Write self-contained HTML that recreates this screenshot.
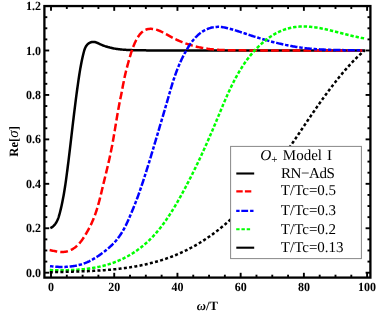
<!DOCTYPE html>
<html><head><meta charset="utf-8"><title>plot</title>
<style>
html,body{margin:0;padding:0;background:#fff;}
body{width:382px;height:319px;overflow:hidden;font-family:"Liberation Serif",serif;}
svg{display:block;will-change:transform;}
text{-webkit-font-smoothing:antialiased;}
</style></head><body>
<svg width="382" height="319" viewBox="0 0 382 319" text-rendering="geometricPrecision">
<rect x="0" y="0" width="382" height="319" fill="#fff"/>
<path d="M50.35,228.20 L51.26,227.72 L52.11,227.17 L52.90,226.56 L53.63,225.90 L54.31,225.18 L54.94,224.42 L55.52,223.61 L56.06,222.78 L56.56,221.91 L57.02,221.02 L57.45,220.11 L57.84,219.19 L58.20,218.26 L58.54,217.32 L58.86,216.37 L59.15,215.41 L59.43,214.45 L59.70,213.48 L59.95,212.51 L60.20,211.54 L60.44,210.57 L60.67,209.59 L60.90,208.62 L61.13,207.65 L61.35,206.67 L61.57,205.69 L61.78,204.72 L61.99,203.74 L62.19,202.76 L62.39,201.78 L62.59,200.80 L62.78,199.83 L62.97,198.85 L63.16,197.86 L63.34,196.88 L63.52,195.90 L63.69,194.92 L63.87,193.94 L64.03,192.95 L64.20,191.97 L64.36,190.99 L64.52,190.00 L64.68,189.02 L64.84,188.03 L64.99,187.05 L65.14,186.06 L65.29,185.07 L65.43,184.09 L65.58,183.10 L65.72,182.11 L65.86,181.12 L66.00,180.13 L66.14,179.14 L66.27,178.16 L66.41,177.17 L66.54,176.18 L66.67,175.19 L66.80,174.19 L66.93,173.20 L67.06,172.21 L67.19,171.22 L67.32,170.23 L67.44,169.24 L67.57,168.24 L67.69,167.25 L67.82,166.26 L67.94,165.27 L68.07,164.27 L68.19,163.28 L68.32,162.29 L68.44,161.29 L68.56,160.30 L68.68,159.30 L68.80,158.31 L68.92,157.31 L69.04,156.32 L69.16,155.32 L69.28,154.33 L69.40,153.33 L69.52,152.34 L69.64,151.34 L69.76,150.35 L69.88,149.35 L70.00,148.36 L70.11,147.36 L70.23,146.36 L70.35,145.37 L70.47,144.37 L70.58,143.37 L70.70,142.38 L70.82,141.38 L70.93,140.39 L71.05,139.39 L71.17,138.39 L71.28,137.40 L71.40,136.40 L71.52,135.41 L71.63,134.41 L71.75,133.41 L71.86,132.42 L71.98,131.42 L72.10,130.42 L72.21,129.43 L72.33,128.43 L72.45,127.44 L72.56,126.44 L72.68,125.45 L72.80,124.45 L72.92,123.46 L73.03,122.46 L73.15,121.47 L73.27,120.47 L73.39,119.48 L73.51,118.48 L73.62,117.49 L73.74,116.49 L73.86,115.50 L73.98,114.51 L74.10,113.51 L74.22,112.52 L74.34,111.53 L74.47,110.53 L74.59,109.54 L74.71,108.55 L74.83,107.56 L74.96,106.57 L75.08,105.57 L75.20,104.58 L75.33,103.59 L75.45,102.60 L75.58,101.61 L75.70,100.62 L75.83,99.63 L75.96,98.64 L76.09,97.65 L76.22,96.67 L76.35,95.68 L76.48,94.69 L76.61,93.70 L76.74,92.72 L76.87,91.73 L77.00,90.74 L77.14,89.76 L77.27,88.77 L77.41,87.79 L77.54,86.80 L77.68,85.82 L77.82,84.84 L77.96,83.86 L78.10,82.87 L78.24,81.89 L78.38,80.91 L78.52,79.93 L78.66,78.95 L78.81,77.97 L78.96,76.99 L79.11,76.01 L79.26,75.03 L79.41,74.05 L79.56,73.07 L79.72,72.09 L79.88,71.11 L80.05,70.12 L80.21,69.14 L80.38,68.16 L80.56,67.17 L80.74,66.19 L80.92,65.20 L81.11,64.21 L81.30,63.22 L81.49,62.23 L81.69,61.24 L81.90,60.24 L82.11,59.25 L82.33,58.25 L82.55,57.25 L82.78,56.24 L83.02,55.24 L83.26,54.23 L83.51,53.22 L83.77,52.21 L84.04,51.21 L84.33,50.21 L84.66,49.24 L85.02,48.30 L85.43,47.39 L85.88,46.52 L86.40,45.71 L86.98,44.94 L87.63,44.25 L88.36,43.62 L89.17,43.07 L90.04,42.61 L90.96,42.26 L91.90,42.02 L92.85,41.90 L93.80,41.92 L94.74,42.06 L95.68,42.30 L96.62,42.62 L97.55,43.00 L98.48,43.42 L99.41,43.85 L100.35,44.28 L101.28,44.70 L102.23,45.09 L103.17,45.47 L104.12,45.82 L105.07,46.16 L106.02,46.47 L106.98,46.77 L107.94,47.06 L108.90,47.32 L109.87,47.58 L110.84,47.81 L111.81,48.03 L112.78,48.24 L113.76,48.43 L114.74,48.61 L115.72,48.77 L116.70,48.93 L117.68,49.07 L118.67,49.20 L119.66,49.32 L120.65,49.43 L121.64,49.53 L122.63,49.62 L123.63,49.70 L124.62,49.77 L125.62,49.84 L126.61,49.90 L127.61,49.95 L128.61,50.00 L129.61,50.04 L130.61,50.07 L131.61,50.10 L132.62,50.13 L133.62,50.15 L134.62,50.17 L135.62,50.19 L136.63,50.21 L137.63,50.22 L138.63,50.24 L139.63,50.25 L140.64,50.26 L141.64,50.28 L142.64,50.29 L143.64,50.31 L144.64,50.33 L145.64,50.35 L146.64,50.38 L147.64,50.41 L148.64,50.44 L149.63,50.48 L150.00,50.50 L150.00,50.50 L365.20,50.50" fill="none" stroke="#000" stroke-width="2.5" stroke-linejoin="round"/>
<path d="M49.65,250.10 L50.59,250.28 L51.55,250.47 L52.52,250.67 L53.51,250.88 L54.50,251.08 L55.49,251.28 L56.50,251.47 L57.51,251.64 L58.52,251.78 L59.53,251.90 L60.54,251.98 L61.55,252.02 L62.56,252.01 L63.56,251.96 L64.55,251.85 L65.54,251.69 L66.51,251.49 L67.48,251.23 L68.43,250.94 L69.37,250.60 L70.29,250.22 L71.19,249.79 L72.08,249.34 L72.94,248.84 L73.78,248.31 L74.60,247.75 L75.39,247.16 L76.15,246.54 L76.89,245.90 L77.61,245.22 L78.30,244.53 L78.97,243.81 L79.62,243.07 L80.26,242.31 L80.87,241.53 L81.48,240.74 L82.06,239.93 L82.64,239.11 L83.20,238.28 L83.76,237.44 L84.30,236.59 L84.84,235.73 L85.37,234.87 L85.90,234.00 L86.42,233.12 L86.93,232.24 L87.43,231.35 L87.93,230.46 L88.42,229.57 L88.90,228.66 L89.37,227.76 L89.83,226.85 L90.29,225.94 L90.74,225.02 L91.18,224.10 L91.61,223.17 L92.03,222.25 L92.44,221.32 L92.84,220.39 L93.23,219.46 L93.62,218.52 L93.99,217.59 L94.36,216.65 L94.71,215.71 L95.06,214.77 L95.39,213.83 L95.72,212.89 L96.04,211.95 L96.36,211.01 L96.66,210.06 L96.96,209.12 L97.25,208.17 L97.53,207.23 L97.81,206.28 L98.09,205.33 L98.35,204.38 L98.62,203.43 L98.87,202.48 L99.13,201.53 L99.38,200.57 L99.62,199.62 L99.87,198.66 L100.11,197.71 L100.34,196.75 L100.58,195.79 L100.81,194.84 L101.04,193.88 L101.27,192.92 L101.50,191.96 L101.73,191.00 L101.96,190.03 L102.19,189.07 L102.42,188.11 L102.65,187.14 L102.88,186.18 L103.11,185.21 L103.35,184.25 L103.58,183.28 L103.81,182.31 L104.05,181.34 L104.28,180.37 L104.52,179.41 L104.76,178.44 L104.99,177.46 L105.23,176.49 L105.46,175.52 L105.70,174.55 L105.93,173.58 L106.17,172.60 L106.40,171.63 L106.64,170.65 L106.87,169.68 L107.10,168.70 L107.34,167.73 L107.57,166.75 L107.80,165.77 L108.03,164.79 L108.25,163.82 L108.48,162.84 L108.70,161.86 L108.93,160.88 L109.15,159.90 L109.37,158.92 L109.58,157.94 L109.80,156.96 L110.01,155.98 L110.22,154.99 L110.43,154.01 L110.64,153.03 L110.84,152.05 L111.04,151.06 L111.24,150.08 L111.44,149.10 L111.63,148.11 L111.82,147.13 L112.01,146.15 L112.20,145.16 L112.38,144.18 L112.56,143.19 L112.74,142.21 L112.92,141.22 L113.09,140.23 L113.27,139.25 L113.44,138.26 L113.61,137.28 L113.78,136.29 L113.95,135.30 L114.12,134.32 L114.28,133.33 L114.45,132.35 L114.62,131.36 L114.78,130.37 L114.94,129.38 L115.11,128.40 L115.27,127.41 L115.43,126.42 L115.59,125.44 L115.76,124.45 L115.92,123.46 L116.08,122.48 L116.24,121.49 L116.41,120.50 L116.57,119.52 L116.74,118.53 L116.90,117.54 L117.07,116.56 L117.24,115.57 L117.41,114.58 L117.58,113.60 L117.75,112.61 L117.92,111.63 L118.09,110.64 L118.27,109.65 L118.45,108.67 L118.63,107.68 L118.81,106.70 L118.99,105.71 L119.18,104.73 L119.37,103.74 L119.56,102.76 L119.75,101.78 L119.95,100.79 L120.15,99.81 L120.35,98.83 L120.55,97.84 L120.75,96.86 L120.95,95.88 L121.15,94.90 L121.35,93.92 L121.54,92.93 L121.73,91.95 L121.92,90.97 L122.11,89.99 L122.29,89.01 L122.48,88.03 L122.66,87.06 L122.85,86.08 L123.03,85.10 L123.22,84.12 L123.41,83.15 L123.60,82.17 L123.79,81.19 L123.98,80.22 L124.18,79.24 L124.38,78.27 L124.59,77.29 L124.80,76.32 L125.02,75.35 L125.24,74.38 L125.47,73.40 L125.70,72.43 L125.93,71.46 L126.17,70.49 L126.42,69.52 L126.67,68.56 L126.92,67.59 L127.18,66.62 L127.43,65.65 L127.70,64.69 L127.96,63.72 L128.22,62.76 L128.49,61.79 L128.76,60.83 L129.03,59.87 L129.30,58.91 L129.58,57.95 L129.85,56.99 L130.13,56.03 L130.42,55.07 L130.71,54.12 L131.00,53.16 L131.31,52.21 L131.62,51.26 L131.94,50.32 L132.27,49.37 L132.60,48.43 L132.95,47.49 L133.32,46.55 L133.69,45.62 L134.08,44.69 L134.48,43.76 L134.89,42.84 L135.32,41.92 L135.77,41.00 L136.23,40.09 L136.72,39.18 L137.22,38.28 L137.74,37.40 L138.29,36.53 L138.86,35.68 L139.46,34.87 L140.09,34.08 L140.75,33.33 L141.44,32.63 L142.17,31.97 L142.93,31.36 L143.73,30.80 L144.57,30.31 L145.44,29.88 L146.33,29.53 L147.26,29.24 L148.21,29.04 L149.17,28.90 L150.16,28.84 L151.15,28.84 L152.15,28.89 L153.15,29.01 L154.14,29.17 L155.13,29.38 L156.11,29.63 L157.08,29.91 L158.02,30.24 L158.96,30.59 L159.89,30.97 L160.80,31.38 L161.71,31.81 L162.61,32.25 L163.50,32.72 L164.39,33.20 L165.27,33.69 L166.15,34.18 L167.03,34.68 L167.90,35.19 L168.78,35.69 L169.66,36.18 L170.55,36.67 L171.43,37.15 L172.32,37.62 L173.22,38.08 L174.12,38.54 L175.02,38.98 L175.92,39.41 L176.83,39.84 L177.74,40.25 L178.66,40.66 L179.58,41.06 L180.50,41.44 L181.43,41.82 L182.35,42.19 L183.28,42.56 L184.22,42.91 L185.16,43.25 L186.10,43.59 L187.04,43.91 L187.99,44.23 L188.93,44.54 L189.88,44.84 L190.84,45.13 L191.79,45.41 L192.75,45.68 L193.71,45.95 L194.68,46.20 L195.64,46.45 L196.61,46.69 L197.58,46.92 L198.55,47.14 L199.52,47.35 L200.50,47.56 L201.48,47.76 L202.46,47.94 L203.44,48.12 L204.42,48.29 L205.40,48.46 L206.39,48.61 L207.38,48.76 L208.37,48.89 L209.36,49.02 L210.35,49.14 L211.34,49.26 L212.33,49.36 L213.33,49.46 L214.32,49.55 L215.32,49.63 L216.32,49.71 L217.32,49.78 L218.32,49.84 L219.32,49.90 L220.32,49.95 L221.32,50.00 L222.32,50.04 L223.32,50.08 L224.32,50.11 L225.33,50.14 L226.33,50.17 L227.33,50.19 L228.34,50.21 L229.34,50.23 L230.35,50.24 L231.35,50.26 L232.35,50.27 L233.36,50.28 L234.36,50.28 L235.36,50.29 L236.37,50.30 L237.37,50.31 L238.37,50.31 L239.37,50.32 L240.37,50.33 L241.37,50.34 L242.37,50.35 L243.37,50.36 L244.37,50.37 L245.36,50.39 L246.36,50.41 L247.35,50.43 L248.35,50.45 L249.34,50.48 L250.00,50.50 L250.00,50.50 L362.50,50.50" fill="none" stroke="#f00" stroke-width="2.5" stroke-linejoin="round" stroke-dasharray="7.7 3.1"/>
<path d="M50.00,266.15 L50.99,266.27 L51.98,266.38 L52.98,266.48 L53.97,266.58 L54.97,266.66 L55.97,266.73 L56.97,266.80 L57.97,266.85 L58.97,266.89 L59.98,266.92 L60.98,266.94 L61.98,266.95 L62.99,266.94 L63.99,266.93 L64.99,266.90 L65.99,266.85 L66.99,266.80 L67.99,266.73 L68.99,266.65 L69.98,266.55 L70.98,266.44 L71.97,266.32 L72.95,266.18 L73.94,266.03 L74.92,265.86 L75.90,265.67 L76.88,265.47 L77.85,265.26 L78.81,265.02 L79.78,264.77 L80.74,264.51 L81.69,264.23 L82.64,263.92 L83.58,263.61 L84.52,263.27 L85.45,262.92 L86.38,262.54 L87.30,262.15 L88.21,261.74 L89.12,261.32 L90.02,260.87 L90.92,260.41 L91.81,259.94 L92.69,259.45 L93.56,258.94 L94.43,258.43 L95.30,257.90 L96.15,257.36 L97.00,256.81 L97.85,256.25 L98.68,255.69 L99.52,255.11 L100.34,254.53 L101.16,253.94 L101.97,253.35 L102.78,252.75 L103.57,252.14 L104.37,251.54 L105.15,250.92 L105.93,250.31 L106.70,249.68 L107.46,249.05 L108.22,248.41 L108.97,247.76 L109.71,247.11 L110.44,246.44 L111.16,245.77 L111.87,245.08 L112.58,244.39 L113.27,243.68 L113.96,242.96 L114.63,242.22 L115.30,241.48 L115.95,240.71 L116.59,239.94 L117.23,239.15 L117.85,238.35 L118.46,237.54 L119.06,236.72 L119.65,235.89 L120.22,235.05 L120.79,234.20 L121.34,233.35 L121.88,232.49 L122.40,231.63 L122.92,230.77 L123.42,229.90 L123.90,229.03 L124.38,228.15 L124.85,227.27 L125.30,226.39 L125.75,225.51 L126.18,224.62 L126.61,223.73 L127.03,222.84 L127.45,221.94 L127.86,221.05 L128.26,220.15 L128.66,219.24 L129.06,218.34 L129.45,217.43 L129.84,216.52 L130.23,215.61 L130.62,214.70 L131.00,213.78 L131.39,212.86 L131.77,211.95 L132.16,211.02 L132.54,210.10 L132.92,209.17 L133.30,208.25 L133.67,207.32 L134.05,206.39 L134.42,205.46 L134.79,204.52 L135.16,203.59 L135.53,202.65 L135.89,201.71 L136.26,200.78 L136.61,199.83 L136.97,198.89 L137.32,197.95 L137.67,197.01 L138.02,196.06 L138.36,195.12 L138.70,194.17 L139.04,193.22 L139.38,192.28 L139.71,191.33 L140.04,190.38 L140.37,189.43 L140.69,188.48 L141.02,187.53 L141.34,186.58 L141.66,185.62 L141.97,184.67 L142.29,183.72 L142.61,182.77 L142.92,181.82 L143.23,180.86 L143.54,179.91 L143.85,178.96 L144.16,178.01 L144.46,177.05 L144.77,176.10 L145.07,175.15 L145.38,174.20 L145.68,173.24 L145.98,172.29 L146.28,171.34 L146.58,170.39 L146.88,169.43 L147.18,168.48 L147.48,167.53 L147.77,166.58 L148.07,165.62 L148.36,164.67 L148.66,163.72 L148.95,162.77 L149.24,161.81 L149.54,160.86 L149.83,159.91 L150.12,158.95 L150.41,158.00 L150.70,157.05 L150.99,156.09 L151.27,155.14 L151.56,154.19 L151.85,153.23 L152.14,152.28 L152.42,151.32 L152.71,150.37 L153.00,149.41 L153.28,148.46 L153.57,147.50 L153.85,146.55 L154.14,145.59 L154.42,144.64 L154.70,143.68 L154.99,142.72 L155.27,141.77 L155.56,140.81 L155.84,139.85 L156.12,138.89 L156.41,137.94 L156.69,136.98 L156.97,136.02 L157.26,135.06 L157.54,134.10 L157.82,133.14 L158.11,132.18 L158.39,131.22 L158.68,130.26 L158.96,129.30 L159.24,128.34 L159.53,127.38 L159.81,126.42 L160.10,125.46 L160.38,124.49 L160.67,123.53 L160.96,122.57 L161.24,121.60 L161.53,120.64 L161.81,119.68 L162.10,118.71 L162.39,117.75 L162.67,116.78 L162.96,115.82 L163.25,114.85 L163.53,113.89 L163.82,112.92 L164.10,111.96 L164.39,111.00 L164.67,110.03 L164.96,109.07 L165.24,108.10 L165.52,107.14 L165.80,106.18 L166.09,105.21 L166.37,104.25 L166.65,103.29 L166.92,102.32 L167.20,101.36 L167.48,100.40 L167.76,99.44 L168.03,98.48 L168.31,97.52 L168.58,96.56 L168.86,95.60 L169.13,94.64 L169.40,93.69 L169.68,92.73 L169.95,91.77 L170.23,90.82 L170.51,89.87 L170.79,88.91 L171.07,87.96 L171.35,87.01 L171.64,86.06 L171.93,85.11 L172.22,84.16 L172.51,83.21 L172.80,82.27 L173.10,81.32 L173.41,80.38 L173.71,79.44 L174.03,78.50 L174.34,77.56 L174.66,76.62 L174.99,75.68 L175.32,74.75 L175.65,73.81 L175.99,72.88 L176.33,71.95 L176.68,71.02 L177.04,70.09 L177.40,69.16 L177.76,68.24 L178.14,67.32 L178.52,66.39 L178.90,65.47 L179.29,64.56 L179.69,63.64 L180.09,62.73 L180.50,61.81 L180.92,60.90 L181.34,60.00 L181.77,59.09 L182.21,58.19 L182.65,57.28 L183.10,56.38 L183.56,55.48 L184.03,54.59 L184.51,53.70 L184.99,52.80 L185.48,51.91 L185.98,51.03 L186.49,50.14 L187.00,49.26 L187.53,48.38 L188.06,47.51 L188.60,46.64 L189.16,45.78 L189.72,44.93 L190.29,44.08 L190.88,43.24 L191.47,42.42 L192.08,41.60 L192.70,40.80 L193.33,40.01 L193.98,39.23 L194.63,38.47 L195.30,37.72 L195.99,36.99 L196.68,36.28 L197.39,35.59 L198.12,34.92 L198.86,34.27 L199.62,33.63 L200.39,33.03 L201.17,32.44 L201.98,31.88 L202.80,31.34 L203.63,30.83 L204.49,30.35 L205.36,29.90 L206.25,29.47 L207.15,29.08 L208.08,28.71 L209.02,28.38 L209.97,28.08 L210.94,27.81 L211.91,27.57 L212.89,27.37 L213.88,27.20 L214.87,27.06 L215.87,26.96 L216.86,26.90 L217.86,26.87 L218.85,26.87 L219.84,26.92 L220.83,26.99 L221.81,27.09 L222.79,27.22 L223.77,27.38 L224.75,27.56 L225.72,27.75 L226.69,27.97 L227.66,28.20 L228.63,28.44 L229.59,28.70 L230.56,28.96 L231.52,29.23 L232.48,29.51 L233.44,29.79 L234.40,30.08 L235.36,30.37 L236.31,30.67 L237.27,30.97 L238.22,31.27 L239.17,31.58 L240.13,31.90 L241.08,32.21 L242.03,32.52 L242.98,32.84 L243.94,33.16 L244.89,33.48 L245.84,33.80 L246.79,34.12 L247.74,34.44 L248.70,34.76 L249.65,35.07 L250.60,35.39 L251.56,35.70 L252.52,36.01 L253.47,36.32 L254.43,36.62 L255.39,36.93 L256.35,37.23 L257.31,37.53 L258.27,37.82 L259.23,38.11 L260.19,38.41 L261.15,38.69 L262.11,38.98 L263.08,39.26 L264.04,39.54 L265.01,39.82 L265.97,40.09 L266.94,40.36 L267.91,40.63 L268.88,40.90 L269.84,41.16 L270.81,41.42 L271.78,41.67 L272.75,41.93 L273.72,42.17 L274.70,42.42 L275.67,42.66 L276.64,42.90 L277.62,43.14 L278.59,43.37 L279.56,43.60 L280.54,43.82 L281.52,44.04 L282.49,44.26 L283.47,44.48 L284.45,44.69 L285.43,44.89 L286.40,45.10 L287.38,45.29 L288.36,45.49 L289.34,45.68 L290.33,45.87 L291.31,46.05 L292.29,46.23 L293.27,46.40 L294.26,46.57 L295.24,46.74 L296.22,46.90 L297.21,47.05 L298.19,47.21 L299.18,47.35 L300.17,47.50 L301.15,47.63 L302.14,47.77 L303.13,47.90 L304.11,48.02 L305.10,48.14 L306.09,48.26 L307.08,48.37 L308.07,48.47 L309.06,48.57 L310.05,48.67 L311.04,48.76 L312.03,48.85 L313.03,48.93 L314.02,49.01 L315.01,49.09 L316.00,49.16 L317.00,49.23 L317.99,49.30 L318.99,49.36 L319.98,49.42 L320.98,49.47 L321.97,49.53 L322.97,49.58 L323.96,49.62 L324.96,49.67 L325.96,49.71 L326.95,49.75 L327.95,49.78 L328.95,49.82 L329.94,49.85 L330.94,49.88 L331.94,49.91 L332.94,49.94 L333.94,49.96 L334.94,49.98 L335.94,50.00 L336.94,50.02 L337.94,50.04 L338.94,50.06 L339.94,50.08 L340.94,50.09 L341.94,50.11 L342.94,50.12 L343.94,50.13 L344.95,50.15 L345.95,50.16 L346.95,50.17 L347.95,50.18 L348.96,50.19 L349.96,50.21 L350.96,50.22 L351.96,50.23 L352.97,50.24 L353.97,50.25 L354.98,50.27 L355.98,50.28 L356.98,50.30 L357.99,50.31 L358.99,50.33 L360.00,50.35 L361.00,50.37 L362.01,50.39 L362.50,50.40" fill="none" stroke="#00f" stroke-width="2.5" stroke-linejoin="round" stroke-dasharray="3.5 1.8 7.3 1.8"/>
<path d="M49.80,270.10 L50.78,270.12 L51.76,270.15 L52.74,270.17 L53.72,270.18 L54.71,270.20 L55.70,270.21 L56.69,270.22 L57.68,270.23 L58.67,270.24 L59.66,270.24 L60.66,270.24 L61.66,270.24 L62.65,270.23 L63.65,270.22 L64.65,270.21 L65.65,270.19 L66.66,270.17 L67.66,270.15 L68.66,270.12 L69.67,270.09 L70.67,270.05 L71.68,270.01 L72.68,269.97 L73.69,269.92 L74.70,269.86 L75.70,269.80 L76.71,269.74 L77.71,269.67 L78.72,269.60 L79.73,269.52 L80.73,269.43 L81.74,269.34 L82.74,269.25 L83.74,269.14 L84.75,269.04 L85.75,268.92 L86.75,268.80 L87.75,268.68 L88.75,268.55 L89.74,268.41 L90.74,268.26 L91.74,268.11 L92.73,267.95 L93.72,267.78 L94.71,267.61 L95.70,267.43 L96.69,267.24 L97.67,267.05 L98.65,266.85 L99.64,266.63 L100.61,266.42 L101.59,266.19 L102.56,265.96 L103.54,265.71 L104.51,265.46 L105.47,265.20 L106.43,264.93 L107.40,264.66 L108.35,264.37 L109.31,264.08 L110.26,263.77 L111.21,263.46 L112.15,263.14 L113.10,262.81 L114.03,262.46 L114.97,262.11 L115.90,261.75 L116.83,261.38 L117.75,261.00 L118.67,260.62 L119.59,260.22 L120.50,259.81 L121.41,259.40 L122.31,258.97 L123.21,258.54 L124.11,258.09 L125.00,257.64 L125.88,257.18 L126.76,256.71 L127.64,256.24 L128.51,255.75 L129.38,255.25 L130.24,254.75 L131.09,254.24 L131.94,253.72 L132.79,253.19 L133.63,252.65 L134.46,252.11 L135.29,251.56 L136.11,251.00 L136.93,250.43 L137.74,249.85 L138.55,249.27 L139.35,248.67 L140.14,248.07 L140.93,247.47 L141.71,246.85 L142.48,246.23 L143.25,245.60 L144.01,244.96 L144.77,244.31 L145.51,243.66 L146.26,243.00 L146.99,242.34 L147.72,241.66 L148.44,240.98 L149.16,240.30 L149.87,239.60 L150.57,238.90 L151.27,238.20 L151.96,237.49 L152.64,236.77 L153.32,236.04 L154.00,235.31 L154.67,234.58 L155.33,233.84 L155.99,233.09 L156.64,232.34 L157.28,231.58 L157.92,230.81 L158.56,230.05 L159.19,229.27 L159.82,228.50 L160.44,227.71 L161.05,226.92 L161.66,226.13 L162.27,225.34 L162.87,224.54 L163.47,223.73 L164.06,222.92 L164.65,222.11 L165.23,221.29 L165.81,220.47 L166.39,219.65 L166.96,218.82 L167.52,217.99 L168.08,217.15 L168.64,216.31 L169.20,215.47 L169.75,214.63 L170.30,213.78 L170.84,212.93 L171.38,212.08 L171.91,211.23 L172.45,210.37 L172.98,209.51 L173.50,208.65 L174.03,207.78 L174.55,206.92 L175.06,206.05 L175.58,205.18 L176.09,204.31 L176.60,203.44 L177.10,202.56 L177.60,201.69 L178.10,200.81 L178.60,199.94 L179.10,199.06 L179.59,198.18 L180.08,197.30 L180.57,196.42 L181.05,195.54 L181.54,194.65 L182.02,193.77 L182.50,192.89 L182.97,192.01 L183.45,191.13 L183.93,190.24 L184.40,189.36 L184.87,188.48 L185.34,187.60 L185.80,186.71 L186.27,185.83 L186.73,184.95 L187.19,184.06 L187.65,183.18 L188.11,182.30 L188.57,181.41 L189.03,180.53 L189.48,179.64 L189.93,178.76 L190.38,177.88 L190.83,176.99 L191.28,176.10 L191.72,175.22 L192.17,174.33 L192.61,173.45 L193.05,172.56 L193.49,171.67 L193.93,170.78 L194.37,169.90 L194.80,169.01 L195.24,168.12 L195.67,167.23 L196.10,166.34 L196.53,165.45 L196.96,164.56 L197.39,163.67 L197.82,162.77 L198.24,161.88 L198.66,160.99 L199.09,160.09 L199.51,159.20 L199.93,158.31 L200.35,157.41 L200.77,156.51 L201.18,155.62 L201.60,154.72 L202.01,153.82 L202.43,152.93 L202.84,152.03 L203.25,151.13 L203.66,150.23 L204.07,149.32 L204.48,148.42 L204.89,147.52 L205.30,146.62 L205.70,145.71 L206.11,144.81 L206.51,143.90 L206.91,143.00 L207.32,142.09 L207.72,141.18 L208.12,140.27 L208.52,139.36 L208.92,138.45 L209.32,137.54 L209.71,136.63 L210.11,135.71 L210.51,134.80 L210.90,133.88 L211.30,132.97 L211.69,132.05 L212.09,131.13 L212.48,130.21 L212.87,129.29 L213.26,128.37 L213.66,127.45 L214.05,126.52 L214.44,125.60 L214.83,124.67 L215.22,123.75 L215.61,122.82 L215.99,121.89 L216.38,120.96 L216.77,120.03 L217.16,119.10 L217.55,118.16 L217.93,117.23 L218.32,116.30 L218.71,115.36 L219.09,114.42 L219.48,113.49 L219.87,112.55 L220.26,111.61 L220.65,110.68 L221.04,109.74 L221.43,108.80 L221.82,107.87 L222.21,106.93 L222.61,105.99 L223.00,105.05 L223.40,104.12 L223.80,103.18 L224.20,102.25 L224.60,101.31 L225.00,100.38 L225.40,99.45 L225.81,98.52 L226.22,97.58 L226.63,96.65 L227.04,95.73 L227.46,94.80 L227.87,93.87 L228.29,92.95 L228.71,92.03 L229.14,91.11 L229.57,90.19 L230.00,89.27 L230.43,88.35 L230.86,87.44 L231.30,86.53 L231.75,85.62 L232.19,84.71 L232.64,83.81 L233.09,82.91 L233.55,82.01 L234.01,81.11 L234.47,80.22 L234.94,79.33 L235.41,78.44 L235.89,77.55 L236.37,76.67 L236.85,75.79 L237.34,74.92 L237.84,74.05 L238.33,73.18 L238.84,72.31 L239.34,71.45 L239.86,70.59 L240.37,69.74 L240.90,68.89 L241.42,68.04 L241.96,67.20 L242.49,66.36 L243.04,65.53 L243.59,64.70 L244.14,63.88 L244.70,63.06 L245.27,62.24 L245.84,61.43 L246.42,60.62 L247.00,59.82 L247.59,59.03 L248.19,58.24 L248.80,57.45 L249.41,56.67 L250.02,55.89 L250.65,55.12 L251.28,54.36 L251.91,53.60 L252.56,52.85 L253.21,52.10 L253.87,51.36 L254.53,50.62 L255.21,49.90 L255.89,49.17 L256.58,48.46 L257.27,47.74 L257.98,47.04 L258.69,46.34 L259.41,45.65 L260.14,44.97 L260.87,44.29 L261.62,43.62 L262.37,42.96 L263.13,42.30 L263.90,41.65 L264.67,41.01 L265.46,40.38 L266.25,39.76 L267.05,39.15 L267.86,38.55 L268.67,37.96 L269.49,37.38 L270.32,36.81 L271.15,36.25 L272.00,35.71 L272.84,35.17 L273.70,34.65 L274.56,34.15 L275.42,33.66 L276.30,33.18 L277.17,32.72 L278.06,32.27 L278.95,31.84 L279.84,31.42 L280.74,31.02 L281.65,30.64 L282.56,30.27 L283.47,29.92 L284.40,29.59 L285.32,29.28 L286.25,28.98 L287.18,28.70 L288.12,28.44 L289.06,28.20 L290.01,27.97 L290.96,27.76 L291.91,27.57 L292.87,27.39 L293.83,27.23 L294.80,27.08 L295.76,26.96 L296.73,26.84 L297.71,26.74 L298.68,26.66 L299.66,26.60 L300.64,26.55 L301.62,26.51 L302.61,26.49 L303.60,26.48 L304.59,26.49 L305.58,26.52 L306.57,26.55 L307.57,26.60 L308.57,26.67 L309.56,26.74 L310.56,26.83 L311.56,26.93 L312.57,27.04 L313.57,27.16 L314.57,27.29 L315.58,27.44 L316.59,27.59 L317.59,27.75 L318.60,27.92 L319.61,28.09 L320.61,28.28 L321.62,28.47 L322.63,28.67 L323.64,28.88 L324.65,29.09 L325.66,29.31 L326.66,29.53 L327.67,29.76 L328.68,29.99 L329.69,30.23 L330.69,30.47 L331.70,30.71 L332.70,30.95 L333.71,31.20 L334.71,31.45 L335.71,31.70 L336.71,31.95 L337.71,32.21 L338.71,32.46 L339.70,32.72 L340.70,32.97 L341.69,33.23 L342.68,33.48 L343.67,33.74 L344.66,33.99 L345.64,34.24 L346.62,34.49 L347.60,34.74 L348.58,34.98 L349.56,35.22 L350.53,35.46 L351.50,35.70 L352.47,35.93 L353.43,36.16 L354.39,36.38 L355.35,36.60 L356.30,36.81 L357.25,37.02 L358.20,37.23 L359.15,37.42 L360.09,37.61 L361.02,37.80 L361.96,37.97 L362.89,38.14 L363.81,38.30 L364.73,38.46 L365.00,38.50" fill="none" stroke="#0f0" stroke-width="2.5" stroke-linejoin="round" stroke-dasharray="3.4 1.9"/>
<path d="M49.80,272.20 L50.78,272.18 L51.76,272.15 L52.74,272.13 L53.72,272.10 L54.71,272.08 L55.69,272.06 L56.68,272.03 L57.67,272.01 L58.65,271.99 L59.64,271.96 L60.63,271.94 L61.62,271.92 L62.61,271.90 L63.60,271.87 L64.60,271.85 L65.59,271.83 L66.58,271.80 L67.58,271.78 L68.57,271.75 L69.57,271.73 L70.57,271.70 L71.56,271.68 L72.56,271.65 L73.56,271.62 L74.56,271.60 L75.56,271.57 L76.56,271.54 L77.56,271.51 L78.56,271.47 L79.56,271.44 L80.56,271.41 L81.57,271.37 L82.57,271.34 L83.57,271.30 L84.58,271.26 L85.58,271.22 L86.58,271.18 L87.59,271.14 L88.59,271.09 L89.60,271.05 L90.60,271.00 L91.60,270.95 L92.61,270.90 L93.61,270.85 L94.62,270.80 L95.62,270.74 L96.63,270.68 L97.63,270.62 L98.64,270.56 L99.64,270.50 L100.65,270.43 L101.65,270.36 L102.66,270.29 L103.66,270.22 L104.67,270.15 L105.67,270.07 L106.68,269.99 L107.68,269.91 L108.68,269.82 L109.68,269.74 L110.69,269.65 L111.69,269.56 L112.69,269.46 L113.69,269.36 L114.69,269.26 L115.70,269.16 L116.70,269.05 L117.70,268.94 L118.69,268.83 L119.69,268.72 L120.69,268.60 L121.69,268.47 L122.69,268.35 L123.68,268.22 L124.68,268.09 L125.67,267.95 L126.67,267.82 L127.66,267.67 L128.65,267.53 L129.64,267.38 L130.64,267.22 L131.63,267.07 L132.62,266.91 L133.60,266.74 L134.59,266.57 L135.58,266.40 L136.56,266.23 L137.55,266.05 L138.53,265.86 L139.52,265.67 L140.50,265.48 L141.48,265.28 L142.46,265.08 L143.44,264.88 L144.41,264.67 L145.39,264.45 L146.37,264.23 L147.34,264.01 L148.31,263.78 L149.28,263.55 L150.25,263.31 L151.22,263.07 L152.19,262.82 L153.16,262.57 L154.12,262.31 L155.08,262.05 L156.04,261.78 L157.00,261.51 L157.96,261.23 L158.92,260.95 L159.88,260.67 L160.83,260.37 L161.78,260.08 L162.73,259.77 L163.68,259.47 L164.63,259.15 L165.58,258.83 L166.52,258.51 L167.46,258.18 L168.40,257.85 L169.34,257.51 L170.28,257.16 L171.21,256.81 L172.14,256.46 L173.07,256.10 L174.00,255.73 L174.93,255.36 L175.85,254.98 L176.77,254.60 L177.69,254.21 L178.61,253.82 L179.53,253.42 L180.44,253.01 L181.35,252.60 L182.26,252.18 L183.16,251.76 L184.07,251.34 L184.97,250.90 L185.87,250.47 L186.76,250.02 L187.66,249.57 L188.55,249.12 L189.44,248.66 L190.32,248.20 L191.20,247.73 L192.08,247.25 L192.96,246.77 L193.84,246.29 L194.71,245.80 L195.58,245.30 L196.44,244.81 L197.31,244.30 L198.17,243.79 L199.02,243.28 L199.88,242.76 L200.73,242.24 L201.58,241.71 L202.42,241.18 L203.27,240.64 L204.11,240.10 L204.94,239.56 L205.77,239.01 L206.60,238.45 L207.43,237.89 L208.25,237.33 L209.07,236.76 L209.89,236.19 L210.70,235.62 L211.51,235.04 L212.31,234.46 L213.12,233.87 L213.92,233.28 L214.71,232.68 L215.50,232.08 L216.29,231.48 L217.08,230.87 L217.86,230.26 L218.64,229.65 L219.42,229.03 L220.20,228.41 L220.97,227.78 L221.74,227.15 L222.50,226.52 L223.26,225.88 L224.02,225.24 L224.78,224.60 L225.53,223.95 L226.28,223.30 L227.03,222.65 L227.77,221.99 L228.51,221.33 L229.25,220.67 L229.99,220.00 L230.72,219.33 L231.45,218.66 L232.18,217.98 L232.91,217.30 L233.63,216.62 L234.35,215.93 L235.06,215.24 L235.78,214.55 L236.49,213.85 L237.20,213.15 L237.91,212.45 L238.61,211.75 L239.31,211.04 L240.01,210.33 L240.71,209.62 L241.40,208.90 L242.09,208.18 L242.78,207.46 L243.47,206.74 L244.15,206.01 L244.83,205.28 L245.51,204.55 L246.19,203.82 L246.87,203.08 L247.54,202.34 L248.21,201.60 L248.88,200.86 L249.54,200.11 L250.21,199.36 L250.87,198.61 L251.53,197.86 L252.19,197.10 L252.84,196.35 L253.49,195.59 L254.14,194.83 L254.79,194.06 L255.44,193.30 L256.09,192.53 L256.73,191.76 L257.37,190.99 L258.01,190.21 L258.65,189.44 L259.28,188.66 L259.91,187.88 L260.55,187.10 L261.18,186.31 L261.80,185.53 L262.43,184.74 L263.05,183.96 L263.68,183.17 L264.30,182.37 L264.92,181.58 L265.53,180.79 L266.15,179.99 L266.76,179.19 L267.37,178.39 L267.99,177.59 L268.59,176.79 L269.20,175.99 L269.81,175.18 L270.41,174.38 L271.02,173.57 L271.62,172.76 L272.22,171.95 L272.82,171.14 L273.41,170.33 L274.01,169.52 L274.60,168.71 L275.20,167.89 L275.79,167.08 L276.38,166.26 L276.97,165.44 L277.56,164.62 L278.14,163.80 L278.73,162.98 L279.31,162.16 L279.89,161.34 L280.48,160.52 L281.06,159.70 L281.64,158.87 L282.21,158.05 L282.79,157.22 L283.37,156.40 L283.94,155.57 L284.52,154.75 L285.09,153.92 L285.66,153.09 L286.23,152.26 L286.81,151.44 L287.37,150.61 L287.94,149.78 L288.51,148.95 L289.08,148.12 L289.64,147.29 L290.21,146.46 L290.77,145.63 L291.34,144.80 L291.90,143.97 L292.46,143.15 L293.02,142.32 L293.58,141.49 L294.14,140.66 L294.70,139.83 L295.26,139.00 L295.82,138.17 L296.38,137.34 L296.94,136.51 L297.50,135.68 L298.05,134.85 L298.61,134.02 L299.17,133.19 L299.72,132.37 L300.28,131.54 L300.83,130.71 L301.39,129.88 L301.95,129.05 L302.50,128.23 L303.06,127.40 L303.61,126.57 L304.17,125.75 L304.72,124.92 L305.28,124.09 L305.84,123.27 L306.39,122.44 L306.95,121.62 L307.51,120.79 L308.06,119.97 L308.62,119.15 L309.18,118.32 L309.74,117.50 L310.30,116.68 L310.86,115.86 L311.42,115.03 L311.98,114.21 L312.54,113.39 L313.10,112.57 L313.67,111.76 L314.23,110.94 L314.79,110.12 L315.36,109.30 L315.93,108.49 L316.49,107.67 L317.06,106.85 L317.63,106.04 L318.20,105.23 L318.77,104.41 L319.34,103.60 L319.92,102.79 L320.49,101.98 L321.07,101.17 L321.64,100.36 L322.22,99.55 L322.80,98.74 L323.38,97.93 L323.96,97.13 L324.55,96.32 L325.13,95.52 L325.72,94.72 L326.31,93.91 L326.90,93.11 L327.49,92.31 L328.08,91.51 L328.68,90.71 L329.28,89.91 L329.88,89.12 L330.48,88.32 L331.08,87.53 L331.68,86.73 L332.29,85.94 L332.90,85.15 L333.51,84.36 L334.12,83.57 L334.74,82.78 L335.35,82.00 L335.97,81.21 L336.60,80.43 L337.22,79.64 L337.85,78.86 L338.48,78.08 L339.11,77.30 L339.74,76.52 L340.38,75.74 L341.02,74.97 L341.66,74.19 L342.30,73.42 L342.95,72.65 L343.60,71.88 L344.25,71.11 L344.91,70.35 L345.57,69.59 L346.23,68.83 L346.89,68.07 L347.56,67.32 L348.23,66.57 L348.91,65.82 L349.58,65.07 L350.26,64.33 L350.95,63.59 L351.63,62.86 L352.32,62.13 L353.02,61.41 L353.71,60.69 L354.41,59.97 L355.12,59.26 L355.82,58.55 L356.53,57.85 L357.25,57.15 L357.97,56.46 L358.69,55.78 L359.42,55.10 L360.15,54.42 L360.88,53.75 L361.62,53.09 L362.36,52.44 L363.10,51.79 L363.85,51.15 L364.50,50.60" fill="none" stroke="#000" stroke-width="2.5" stroke-linejoin="round" stroke-dasharray="3.0 2.3"/>
<rect x="44.4" y="6.05" width="326.0" height="271.55" fill="none" stroke="#000" stroke-width="2.3"/>
<g stroke="#000" stroke-width="1.9"><line x1="51.00" y1="277.6" x2="51.00" y2="272.8" /><line x1="51.00" y1="6.05" x2="51.00" y2="10.85" /><line x1="66.81" y1="277.6" x2="66.81" y2="274.70000000000005" /><line x1="66.81" y1="6.05" x2="66.81" y2="8.95" /><line x1="82.61" y1="277.6" x2="82.61" y2="274.70000000000005" /><line x1="82.61" y1="6.05" x2="82.61" y2="8.95" /><line x1="98.41" y1="277.6" x2="98.41" y2="274.70000000000005" /><line x1="98.41" y1="6.05" x2="98.41" y2="8.95" /><line x1="114.22" y1="277.6" x2="114.22" y2="272.8" /><line x1="114.22" y1="6.05" x2="114.22" y2="10.85" /><line x1="130.03" y1="277.6" x2="130.03" y2="274.70000000000005" /><line x1="130.03" y1="6.05" x2="130.03" y2="8.95" /><line x1="145.83" y1="277.6" x2="145.83" y2="274.70000000000005" /><line x1="145.83" y1="6.05" x2="145.83" y2="8.95" /><line x1="161.63" y1="277.6" x2="161.63" y2="274.70000000000005" /><line x1="161.63" y1="6.05" x2="161.63" y2="8.95" /><line x1="177.44" y1="277.6" x2="177.44" y2="272.8" /><line x1="177.44" y1="6.05" x2="177.44" y2="10.85" /><line x1="193.25" y1="277.6" x2="193.25" y2="274.70000000000005" /><line x1="193.25" y1="6.05" x2="193.25" y2="8.95" /><line x1="209.05" y1="277.6" x2="209.05" y2="274.70000000000005" /><line x1="209.05" y1="6.05" x2="209.05" y2="8.95" /><line x1="224.85" y1="277.6" x2="224.85" y2="274.70000000000005" /><line x1="224.85" y1="6.05" x2="224.85" y2="8.95" /><line x1="240.66" y1="277.6" x2="240.66" y2="272.8" /><line x1="240.66" y1="6.05" x2="240.66" y2="10.85" /><line x1="256.47" y1="277.6" x2="256.47" y2="274.70000000000005" /><line x1="256.47" y1="6.05" x2="256.47" y2="8.95" /><line x1="272.27" y1="277.6" x2="272.27" y2="274.70000000000005" /><line x1="272.27" y1="6.05" x2="272.27" y2="8.95" /><line x1="288.07" y1="277.6" x2="288.07" y2="274.70000000000005" /><line x1="288.07" y1="6.05" x2="288.07" y2="8.95" /><line x1="303.88" y1="277.6" x2="303.88" y2="272.8" /><line x1="303.88" y1="6.05" x2="303.88" y2="10.85" /><line x1="319.69" y1="277.6" x2="319.69" y2="274.70000000000005" /><line x1="319.69" y1="6.05" x2="319.69" y2="8.95" /><line x1="335.49" y1="277.6" x2="335.49" y2="274.70000000000005" /><line x1="335.49" y1="6.05" x2="335.49" y2="8.95" /><line x1="351.30" y1="277.6" x2="351.30" y2="274.70000000000005" /><line x1="351.30" y1="6.05" x2="351.30" y2="8.95" /><line x1="367.10" y1="277.6" x2="367.10" y2="272.8" /><line x1="367.10" y1="6.05" x2="367.10" y2="10.85" /><line x1="44.4" y1="272.70" x2="49.199999999999996" y2="272.70" /><line x1="370.4" y1="272.70" x2="365.59999999999997" y2="272.70" /><line x1="44.4" y1="261.59" x2="47.3" y2="261.59" /><line x1="370.4" y1="261.59" x2="367.5" y2="261.59" /><line x1="44.4" y1="250.48" x2="47.3" y2="250.48" /><line x1="370.4" y1="250.48" x2="367.5" y2="250.48" /><line x1="44.4" y1="239.37" x2="47.3" y2="239.37" /><line x1="370.4" y1="239.37" x2="367.5" y2="239.37" /><line x1="44.4" y1="228.26" x2="49.199999999999996" y2="228.26" /><line x1="370.4" y1="228.26" x2="365.59999999999997" y2="228.26" /><line x1="44.4" y1="217.15" x2="47.3" y2="217.15" /><line x1="370.4" y1="217.15" x2="367.5" y2="217.15" /><line x1="44.4" y1="206.04" x2="47.3" y2="206.04" /><line x1="370.4" y1="206.04" x2="367.5" y2="206.04" /><line x1="44.4" y1="194.93" x2="47.3" y2="194.93" /><line x1="370.4" y1="194.93" x2="367.5" y2="194.93" /><line x1="44.4" y1="183.82" x2="49.199999999999996" y2="183.82" /><line x1="370.4" y1="183.82" x2="365.59999999999997" y2="183.82" /><line x1="44.4" y1="172.71" x2="47.3" y2="172.71" /><line x1="370.4" y1="172.71" x2="367.5" y2="172.71" /><line x1="44.4" y1="161.60" x2="47.3" y2="161.60" /><line x1="370.4" y1="161.60" x2="367.5" y2="161.60" /><line x1="44.4" y1="150.49" x2="47.3" y2="150.49" /><line x1="370.4" y1="150.49" x2="367.5" y2="150.49" /><line x1="44.4" y1="139.38" x2="49.199999999999996" y2="139.38" /><line x1="370.4" y1="139.38" x2="365.59999999999997" y2="139.38" /><line x1="44.4" y1="128.27" x2="47.3" y2="128.27" /><line x1="370.4" y1="128.27" x2="367.5" y2="128.27" /><line x1="44.4" y1="117.16" x2="47.3" y2="117.16" /><line x1="370.4" y1="117.16" x2="367.5" y2="117.16" /><line x1="44.4" y1="106.05" x2="47.3" y2="106.05" /><line x1="370.4" y1="106.05" x2="367.5" y2="106.05" /><line x1="44.4" y1="94.94" x2="49.199999999999996" y2="94.94" /><line x1="370.4" y1="94.94" x2="365.59999999999997" y2="94.94" /><line x1="44.4" y1="83.83" x2="47.3" y2="83.83" /><line x1="370.4" y1="83.83" x2="367.5" y2="83.83" /><line x1="44.4" y1="72.72" x2="47.3" y2="72.72" /><line x1="370.4" y1="72.72" x2="367.5" y2="72.72" /><line x1="44.4" y1="61.61" x2="47.3" y2="61.61" /><line x1="370.4" y1="61.61" x2="367.5" y2="61.61" /><line x1="44.4" y1="50.50" x2="49.199999999999996" y2="50.50" /><line x1="370.4" y1="50.50" x2="365.59999999999997" y2="50.50" /><line x1="44.4" y1="39.39" x2="47.3" y2="39.39" /><line x1="370.4" y1="39.39" x2="367.5" y2="39.39" /><line x1="44.4" y1="28.28" x2="47.3" y2="28.28" /><line x1="370.4" y1="28.28" x2="367.5" y2="28.28" /><line x1="44.4" y1="17.17" x2="47.3" y2="17.17" /><line x1="370.4" y1="17.17" x2="367.5" y2="17.17" /><line x1="44.4" y1="6.06" x2="49.199999999999996" y2="6.06" /><line x1="370.4" y1="6.06" x2="365.59999999999997" y2="6.06" /></g>
<g font-family="Liberation Serif, serif" font-weight="bold" font-size="12px" fill="#000"><text transform="translate(41.0,276.70) scale(1,1.04)" text-anchor="end">0.0</text><text transform="translate(41.0,232.26) scale(1,1.04)" text-anchor="end">0.2</text><text transform="translate(41.0,187.82) scale(1,1.04)" text-anchor="end">0.4</text><text transform="translate(41.0,143.38) scale(1,1.04)" text-anchor="end">0.6</text><text transform="translate(41.0,98.94) scale(1,1.04)" text-anchor="end">0.8</text><text transform="translate(41.0,54.50) scale(1,1.04)" text-anchor="end">1.0</text><text transform="translate(41.0,10.06) scale(1,1.04)" text-anchor="end">1.2</text><text transform="translate(51.00,290.8) scale(1,1.04)" text-anchor="middle">0</text><text transform="translate(114.22,290.8) scale(1,1.04)" text-anchor="middle">20</text><text transform="translate(177.44,290.8) scale(1,1.04)" text-anchor="middle">40</text><text transform="translate(240.66,290.8) scale(1,1.04)" text-anchor="middle">60</text><text transform="translate(303.88,290.8) scale(1,1.04)" text-anchor="middle">80</text><text transform="translate(367.10,290.8) scale(1,1.04)" text-anchor="middle">100</text></g>
<g font-family="Liberation Serif, serif" font-weight="bold" font-size="12.7px" fill="#000">
<text x="207.4" y="309.6" text-anchor="middle"><tspan font-style="italic">ω</tspan>/T</text>
<text transform="translate(17.9,156.7) rotate(-90)">Re[<tspan font-style="italic" font-weight="normal" font-size="15px">σ</tspan>]</text>
</g>
<rect x="230.6" y="146.4" width="130.8" height="112.2" fill="#fff" stroke="#888" stroke-width="1"/>
<g stroke-width="2.1" fill="none">
<line x1="236.3" y1="173.5" x2="254.2" y2="173.5" stroke="#000"/>
<line x1="236.3" y1="191.4" x2="251.5" y2="191.4" stroke="#f00" stroke-dasharray="6.4 2.2"/>
<line x1="236.2" y1="210.9" x2="253.7" y2="210.9" stroke="#00f" stroke-dasharray="3.4 1.7 6.8 2"/>
<line x1="236.2" y1="229.3" x2="250.4" y2="229.3" stroke="#0f0" stroke-dasharray="3.4 1.85"/>
<line x1="236.3" y1="247.7" x2="254.2" y2="247.7" stroke="#000"/>
</g>
<g font-family="Liberation Serif, serif" font-size="15px" fill="#000">
<text x="260.3" y="160.3" font-size="15.3px" font-style="italic">O</text>
<text x="271.2" y="163.4" font-size="11px">+</text>
<text x="282.8" y="160.3" font-size="15px">Model</text>
<text x="327.0" y="160.3" font-size="15px">I</text>
<text x="280.9" y="177.6" letter-spacing="-0.4">RN−AdS</text>
<text x="280.8" y="195.4">T/Tc=0.5</text>
<text x="280.8" y="214.9">T/Tc=0.3</text>
<text x="280.8" y="233.6">T/Tc=0.2</text>
<text x="280.8" y="252.1">T/Tc=0.13</text>
</g>
</svg>
</body></html>
